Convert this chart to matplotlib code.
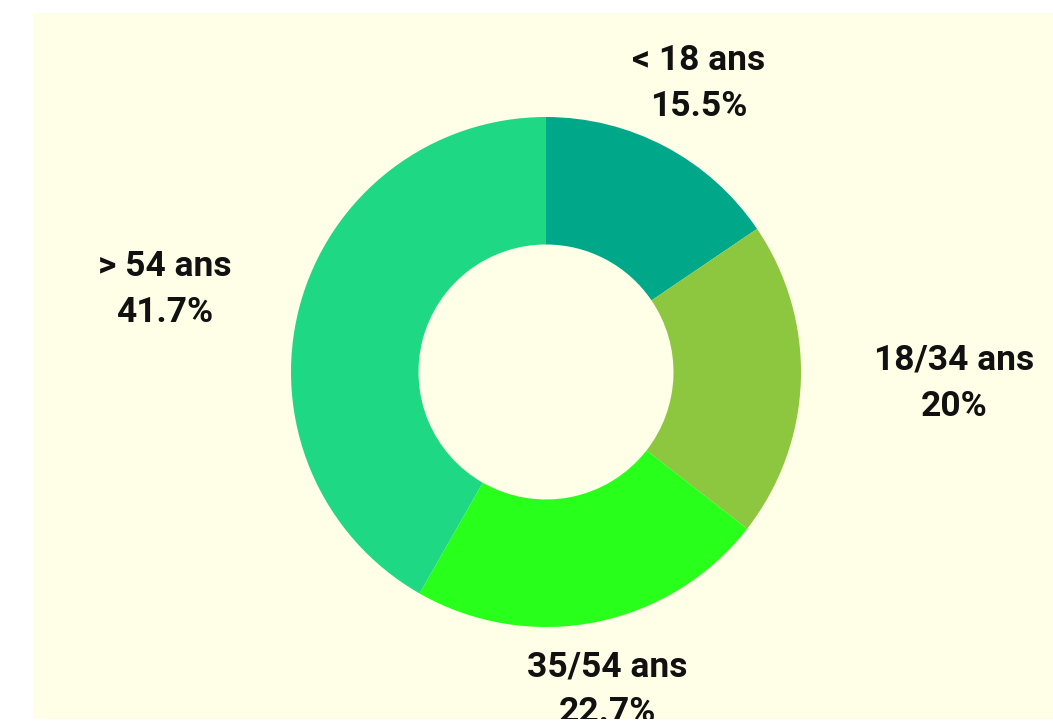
import matplotlib
matplotlib.use("Agg")
import matplotlib.pyplot as plt
import numpy as np

categories = ["< 18 ans", "18/34 ans", "35/54 ans", "> 54 ans"]
values = [15.5, 20, 22.7, 41.7]
value_labels = ["15.5%", "20%", "22.7%", "41.7%"]
colors = ["#00A88A", "#8DC63F", "#28FF1A", "#1FD883"]

# label placement (layout only): radius in units of outer radius, angle tweak in degrees
label_radius = [1.28, 1.60, 1.27, 1.53]
label_angle_tweak = [0.0, 0.3, -0.2, 2.6]

W, H, DPI = 1053, 726, 100
fig = plt.figure(figsize=(W / DPI, H / DPI), dpi=DPI, facecolor="white")
x0, y0, x1, y1 = 33, 13, 1053, 719
ax = fig.add_axes([x0 / W, 1 - y1 / H, (x1 - x0) / W, (y1 - y0) / H])
ax.set_facecolor("#FEFFE6")

R = 255.0
cx, cy = 546 - x0, y1 - 372

ax.pie(values, colors=colors, startangle=90, counterclock=False,
       radius=1.0, wedgeprops=dict(width=0.5, linewidth=0),
       center=(0, 0), frame=True)
ax.set_aspect("equal", adjustable="box")
ax.set_xlim(-cx / R, (x1 - x0 - cx) / R)
ax.set_ylim(-cy / R, (y1 - y0 - cy) / R)
ax.set_xticks([]); ax.set_yticks([])
for s in ax.spines.values():
    s.set_visible(False)

total = sum(values)
cum = 0.0
for cat, v, lab, rf, da in zip(categories, values, value_labels, label_radius, label_angle_tweak):
    mid = 90 - (cum + v / 2) / total * 360 + da
    cum += v
    a = np.deg2rad(mid)
    ax.text(rf * np.cos(a), rf * np.sin(a), f"{cat}\n{lab}",
            ha="center", va="center", multialignment="center",
            fontsize=25.5, fontweight="bold", family=["Roboto", "DejaVu Sans"],
            color="#111111", linespacing=1.5, clip_on=True)

fig.savefig("out.png", dpi=DPI, facecolor="white")
